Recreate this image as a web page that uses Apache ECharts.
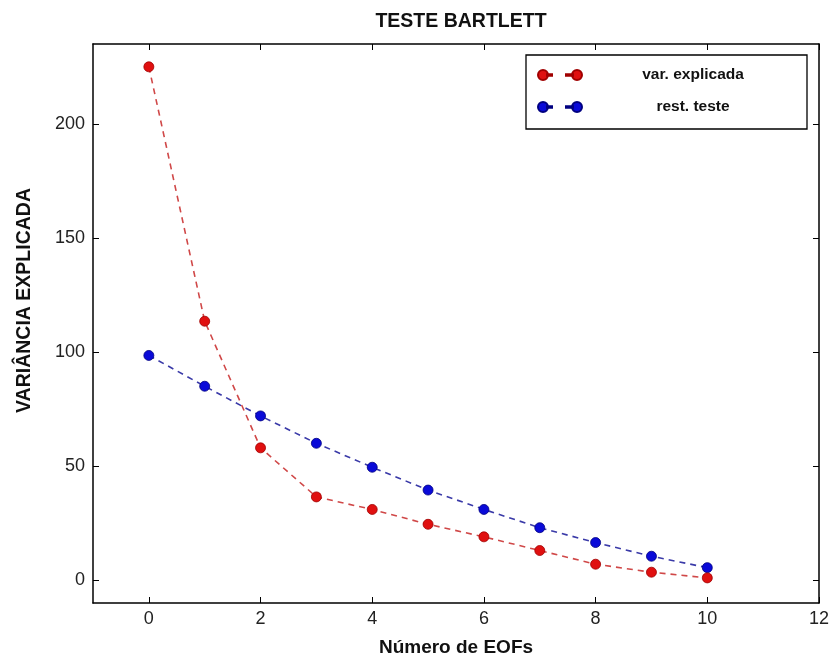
<!DOCTYPE html>
<html>
<head>
<meta charset="utf-8">
<script src="https://cdn.jsdelivr.net/npm/echarts@6/dist/echarts.min.js"></script>
<style>html,body{margin:0;padding:0;background:#fff}#c{width:832px;height:662px}</style>
</head>
<body>
<div id="c"></div>
<script>
const eofs = [0, 1, 2, 3, 4, 5, 6, 7, 8, 9, 10];
const varExplicada = [225, 113.5, 58, 36.5, 31, 24.5, 19, 13, 7, 3.5, 1];
const restTeste = [98.5, 85, 72, 60, 49.5, 39.5, 31, 23, 16.5, 10.5, 5.5];
const xTicks = [0, 2, 4, 6, 8, 10, 12];
const yTicks = [0, 50, 100, 150, 200];
const seriesNames = ['var. explicada', 'rest. teste'];

const chart = echarts.init(document.getElementById('c'));
const font = '"Liberation Sans", Arial, sans-serif';
const legendIcon = 'path://M1,6A5,5 0 1,0 11,6A5,5 0 1,0 1,6Z M10,5.2L15,5.2L15,6.8L10,6.8Z M29,5.2L36,5.2L36,6.8L29,6.8Z M35,6A5,5 0 1,0 45,6A5,5 0 1,0 35,6Z';
const axisCommon = {
  axisLine: { show: true, onZero: false, lineStyle: { color: '#000', width: 1.5 } },
  axisTick: { show: true, inside: true, length: 6, lineStyle: { color: '#000' } },
  splitLine: { show: false }
};
chart.setOption({
  animation: false,
  title: {
    text: 'TESTE BARTLETT', left: 456, textAlign: 'center', top: 7,
    textStyle: { fontFamily: font, fontSize: 19.5, fontWeight: 'bold', color: '#111' }
  },
  grid: { left: 93, top: 44, right: 13, bottom: 59, containLabel: false },
  legend: {
    right: 25, top: 55, orient: 'vertical',
    data: seriesNames.map(n => ({ name: n, icon: legendIcon })),
    borderColor: '#000', borderWidth: 1.3, borderRadius: 0,
    padding: [12, 8, 14, 11], itemGap: 16, itemWidth: 44, itemHeight: 10,
    formatter: n => '{a|' + n + '}',
    textStyle: { fontFamily: font, fontWeight: 'bold', fontSize: 15.5, color: '#111',
      rich: { a: { width: 212, height: 16, lineHeight: 16, align: 'center', fontFamily: font, fontWeight: 'bold', fontSize: 15.5, color: '#111' } } }
  },
  xAxis: [
    Object.assign({}, axisCommon, {
      type: 'value', min: -1, max: 12, position: 'bottom',
      axisTick: Object.assign({}, axisCommon.axisTick, { customValues: xTicks }),
      axisLabel: { customValues: xTicks, fontFamily: font, fontSize: 18, color: '#222', margin: 7 },
      name: 'Número de EOFs', nameLocation: 'middle', nameGap: 35,
      nameTextStyle: { fontFamily: font, fontWeight: 'bold', fontSize: 19, color: '#111' }
    }),
    Object.assign({}, axisCommon, {
      type: 'value', min: -1, max: 12, position: 'top',
      axisTick: Object.assign({}, axisCommon.axisTick, { customValues: xTicks }),
      axisLabel: { show: false }
    })
  ],
  yAxis: [
    Object.assign({}, axisCommon, {
      type: 'value', min: -10, max: 235, position: 'left',
      axisTick: Object.assign({}, axisCommon.axisTick, { customValues: yTicks }),
      axisLabel: { customValues: yTicks, fontFamily: font, fontSize: 18, color: '#222', margin: 8 },
      name: 'VARIÂNCIA EXPLICADA', nameLocation: 'middle', nameGap: 58, nameRotate: 90,
      nameTextStyle: { fontFamily: font, fontWeight: 'bold', fontSize: 19.5, color: '#111', padding: [0, 0, 0, 46] }
    }),
    Object.assign({}, axisCommon, {
      type: 'value', min: -10, max: 235, position: 'right',
      axisTick: Object.assign({}, axisCommon.axisTick, { customValues: yTicks }),
      axisLabel: { show: false }
    })
  ],
  series: [
    {
      name: seriesNames[0], type: 'line',
      data: eofs.map((x, i) => [x, varExplicada[i]]),
      symbol: 'circle', symbolSize: 10,
      itemStyle: { color: '#e01010', borderColor: '#a00000', borderWidth: 0.8 },
      lineStyle: { color: '#d04848', width: 1.6, type: [6, 5] },
      z: 3
    },
    {
      name: seriesNames[1], type: 'line',
      data: eofs.map((x, i) => [x, restTeste[i]]),
      symbol: 'circle', symbolSize: 10,
      itemStyle: { color: '#0a0ad8', borderColor: '#000080', borderWidth: 0.8 },
      lineStyle: { color: '#3a3aa8', width: 1.6, type: [6, 5] },
      z: 2
    }
  ]
});
</script>
</body>
</html>
